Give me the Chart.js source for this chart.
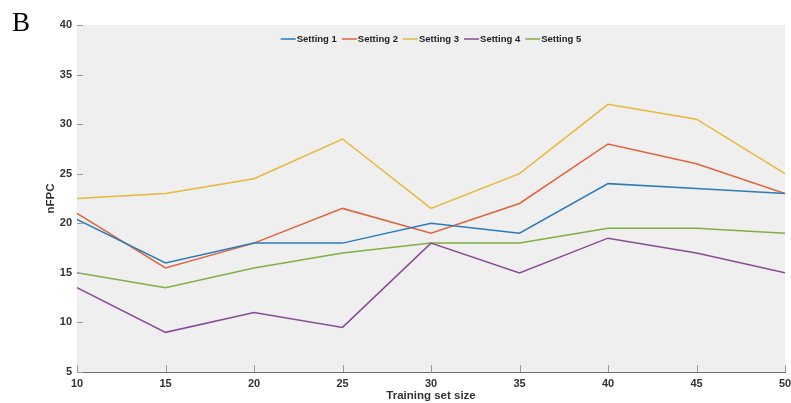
<!DOCTYPE html>
<html>
<head>
<meta charset="utf-8">
<script src="https://cdn.jsdelivr.net/npm/chart.js@4/dist/chart.umd.min.js"></script>
<style>
  html, body { margin: 0; padding: 0; background: #ffffff; }
  #wrap { position: relative; width: 791px; height: 403px; }
  #panel { position: absolute; left: 12px; top: 7px; font-family: "Liberation Serif", "Times New Roman", serif; font-size: 27px; color: #000; }
</style>
</head>
<body>
<div id="wrap">
  <canvas id="c" width="791" height="403"></canvas>
  <div id="panel">B</div>
</div>
<script>
// Training set sizes on the x axis
const trainingSizes = [10, 15, 20, 25, 30, 35, 40, 45, 50];

// nFPC per setting
const setting1 = [20.4, 16, 18, 18, 20, 19, 24, 23.5, 23];
const setting2 = [21, 15.5, 18, 21.5, 19, 22, 28, 26, 23];
const setting3 = [22.5, 23, 24.5, 28.5, 21.5, 25, 32, 30.5, 25];
const setting4 = [13.5, 9, 11, 9.5, 18, 15, 18.5, 17, 15];
const setting5 = [15, 13.5, 15.5, 17, 18, 18, 19.5, 19.5, 19];

const seriesNames = ['Setting 1', 'Setting 2', 'Setting 3', 'Setting 4', 'Setting 5'];
const seriesColors = ['#2b7bba', '#e0633a', '#eab838', '#8a4a96', '#7fb040'];
const yTicks = [5, 10, 15, 20, 25, 30, 35, 40];

const allSeries = [setting1, setting2, setting3, setting4, setting5];

const tickFont = { family: '"Liberation Sans", Arial, sans-serif', size: 11, weight: 'bold' };
const titleFont = { family: '"Liberation Sans", Arial, sans-serif', size: 11.5, weight: 'bold' };
const textColor = '#333333';

// Grey plot background
const plotBg = {
  id: 'plotBg',
  beforeDatasetsDraw(chart) {
    const { ctx, chartArea: a } = chart;
    ctx.save();
    ctx.fillStyle = '#efefef';
    ctx.fillRect(a.left, a.top, a.right - a.left, a.bottom - a.top);
    ctx.restore();
  }
};

// Inward tick marks on both axes
const innerTicks = {
  id: 'innerTicks',
  afterDatasetsDraw(chart) {
    const { ctx, chartArea: a, scales } = chart;
    ctx.save();
    ctx.strokeStyle = '#9a9a9a';
    ctx.lineWidth = 1;
    scales.x.ticks.forEach(t => {
      const x = Math.round(scales.x.getPixelForValue(t.value)) + 0.5;
      ctx.beginPath(); ctx.moveTo(x, a.bottom); ctx.lineTo(x, a.bottom - 7); ctx.stroke();
    });
    scales.y.ticks.forEach(t => {
      const y = Math.round(scales.y.getPixelForValue(t.value)) + 0.5;
      ctx.beginPath(); ctx.moveTo(a.left, y); ctx.lineTo(a.left + 6, y); ctx.stroke();
    });
    ctx.restore();
  }
};

// Legend row drawn inside the top of the plot area
const insideLegend = {
  id: 'insideLegend',
  afterDraw(chart) {
    const { ctx, chartArea: a } = chart;
    ctx.save();
    ctx.font = 'bold 9.5px "Liberation Sans", Arial, sans-serif';
    const lineLen = 15, gap = 1, itemGap = 5;
    const items = chart.data.datasets.map(d => ({ label: d.label, color: d.borderColor, w: ctx.measureText(d.label).width }));
    const total = items.reduce((s, it) => s + lineLen + gap + it.w, 0) + itemGap * (items.length - 1);
    let x = (a.left + a.right) / 2 - total / 2;
    const y = a.top + 14;
    ctx.textBaseline = 'middle';
    ctx.textAlign = 'left';
    items.forEach(it => {
      ctx.strokeStyle = it.color;
      ctx.lineWidth = 1.5;
      ctx.beginPath(); ctx.moveTo(x, y); ctx.lineTo(x + lineLen, y); ctx.stroke();
      x += lineLen + gap;
      ctx.fillStyle = '#222222';
      ctx.fillText(it.label, x, y);
      x += it.w + itemGap;
    });
    ctx.restore();
  }
};

new Chart(document.getElementById('c'), {
  type: 'line',
  data: {
    datasets: allSeries.map((vals, i) => ({
      label: seriesNames[i],
      data: vals.map((v, j) => ({ x: trainingSizes[j], y: v })),
      borderColor: seriesColors[i],
      backgroundColor: seriesColors[i],
      borderWidth: 1.5,
      pointRadius: 0,
      tension: 0,
      fill: false
    }))
  },
  options: {
    responsive: false,
    animation: false,
    devicePixelRatio: 1,
    layout: { padding: { left: 0, top: 25, right: 6, bottom: 0 } },
    plugins: {
      legend: { display: false },
      tooltip: { enabled: false }
    },
    scales: {
      x: {
        type: 'linear',
        min: 10, max: 50,
        afterFit(scale) { scale.height = 31; scale.paddingRight = 0; scale.paddingLeft = 0; },
        afterBuildTicks(scale) { scale.ticks = trainingSizes.map(v => ({ value: v })); },
        grid: { display: false, drawTicks: false },
        border: { display: true, color: '#6f6f6f', width: 1 },
        ticks: { font: tickFont, color: textColor, padding: 5, maxRotation: 0 },
        title: { display: true, text: 'Training set size', font: titleFont, color: textColor, padding: { top: 0, bottom: 0.5 } }
      },
      y: {
        min: 5, max: 40,
        afterFit(scale) { scale.width = 77; scale.paddingTop = 0; scale.paddingBottom = 0; },
        afterBuildTicks(scale) { scale.ticks = yTicks.map(v => ({ value: v })); },
        grid: { display: false, drawTicks: false },
        border: { display: true, color: '#a8a8a8', width: 1 },
        ticks: { font: tickFont, color: textColor, padding: 5 },
        title: { display: true, text: 'nFPC', font: titleFont, color: textColor, padding: { top: 44, bottom: 0 } }
      }
    }
  },
  plugins: [plotBg, innerTicks, insideLegend]
});
</script>
</body>
</html>
